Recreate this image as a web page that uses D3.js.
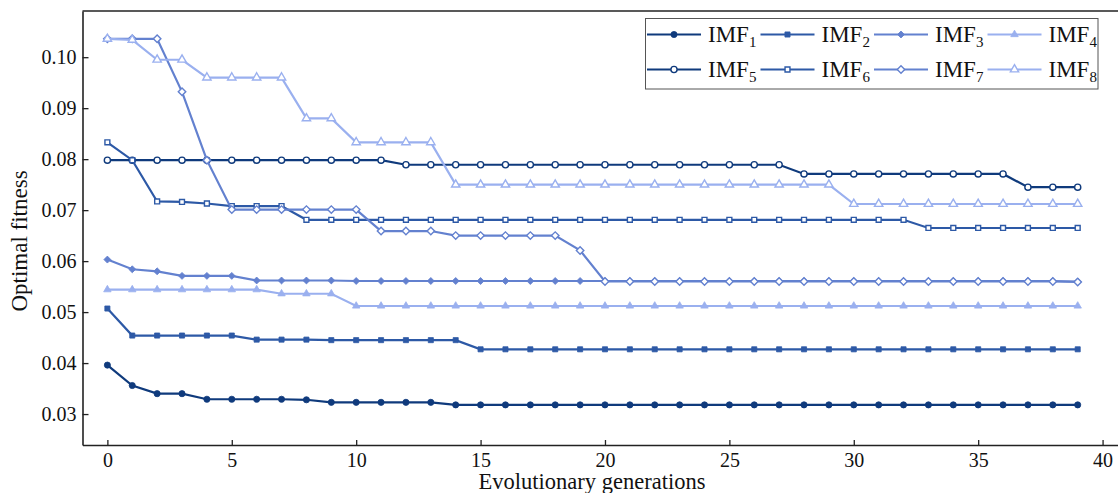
<!DOCTYPE html>
<html>
<head>
<meta charset="utf-8">
<script src="https://cdn.jsdelivr.net/npm/d3@7"></script>
<style>
  body { margin: 0; background: #fff; }
  svg { display: block; }
  text { font-family: "Liberation Serif", "Times New Roman", serif; fill: #111; }
</style>
</head>
<body>
<div id="chart"></div>
<script>
// evolutionary generations 0..39
const generations = d3.range(0, 40);

const imf1 = [0.0396, 0.0356, 0.0340, 0.0340, 0.0329, 0.0329, 0.0329, 0.0329, 0.0328, 0.0323,
  0.0323, 0.0323, 0.0323, 0.0323, 0.0318, 0.0318, 0.0318, 0.0318, 0.0318, 0.0318,
  0.0318, 0.0318, 0.0318, 0.0318, 0.0318, 0.0318, 0.0318, 0.0318, 0.0318, 0.0318,
  0.0318, 0.0318, 0.0318, 0.0318, 0.0318, 0.0318, 0.0318, 0.0318, 0.0318, 0.0318];
const imf2 = [0.0507, 0.0454, 0.0454, 0.0454, 0.0454, 0.0454, 0.0446, 0.0446, 0.0446, 0.0445,
  0.0445, 0.0445, 0.0445, 0.0445, 0.0445, 0.0427, 0.0427, 0.0427, 0.0427, 0.0427,
  0.0427, 0.0427, 0.0427, 0.0427, 0.0427, 0.0427, 0.0427, 0.0427, 0.0427, 0.0427,
  0.0427, 0.0427, 0.0427, 0.0427, 0.0427, 0.0427, 0.0427, 0.0427, 0.0427, 0.0427];
const imf3 = [0.0603, 0.0584, 0.0580, 0.0571, 0.0571, 0.0571, 0.0562, 0.0562, 0.0562, 0.0562,
  0.0561, 0.0561, 0.0561, 0.0561, 0.0561, 0.0561, 0.0561, 0.0561, 0.0561, 0.0561,
  0.0561, 0.0561, 0.0561, 0.0561, 0.0561, 0.0561, 0.0561, 0.0561, 0.0561, 0.0561,
  0.0561, 0.0561, 0.0561, 0.0561, 0.0561, 0.0561, 0.0561, 0.0561, 0.0561, 0.0560];
const imf4 = [0.0544, 0.0544, 0.0544, 0.0544, 0.0544, 0.0544, 0.0544, 0.0536, 0.0536, 0.0536,
  0.0512, 0.0512, 0.0512, 0.0512, 0.0512, 0.0512, 0.0512, 0.0512, 0.0512, 0.0512,
  0.0512, 0.0512, 0.0512, 0.0512, 0.0512, 0.0512, 0.0512, 0.0512, 0.0512, 0.0512,
  0.0512, 0.0512, 0.0512, 0.0512, 0.0512, 0.0512, 0.0512, 0.0512, 0.0512, 0.0512];
const imf5 = [0.0798, 0.0798, 0.0798, 0.0798, 0.0798, 0.0798, 0.0798, 0.0798, 0.0798, 0.0798,
  0.0798, 0.0798, 0.0789, 0.0789, 0.0789, 0.0789, 0.0789, 0.0789, 0.0789, 0.0789,
  0.0789, 0.0789, 0.0789, 0.0789, 0.0789, 0.0789, 0.0789, 0.0789, 0.0771, 0.0771,
  0.0771, 0.0771, 0.0771, 0.0771, 0.0771, 0.0771, 0.0771, 0.0745, 0.0745, 0.0745];
const imf6 = [0.0833, 0.0798, 0.0717, 0.0716, 0.0713, 0.0708, 0.0708, 0.0708, 0.0681, 0.0681,
  0.0681, 0.0681, 0.0681, 0.0681, 0.0681, 0.0681, 0.0681, 0.0681, 0.0681, 0.0681,
  0.0681, 0.0681, 0.0681, 0.0681, 0.0681, 0.0681, 0.0681, 0.0681, 0.0681, 0.0681,
  0.0681, 0.0681, 0.0681, 0.0665, 0.0665, 0.0665, 0.0665, 0.0665, 0.0665, 0.0665];
const imf7 = [0.1036, 0.1036, 0.1036, 0.0932, 0.0798, 0.0701, 0.0701, 0.0701, 0.0701, 0.0701,
  0.0701, 0.0659, 0.0659, 0.0659, 0.0650, 0.0650, 0.0650, 0.0650, 0.0650, 0.0621,
  0.0560, 0.0560, 0.0560, 0.0560, 0.0560, 0.0560, 0.0560, 0.0560, 0.0560, 0.0560,
  0.0560, 0.0560, 0.0560, 0.0560, 0.0560, 0.0560, 0.0560, 0.0560, 0.0560, 0.0559];
const imf8 = [0.1036, 0.1034, 0.0995, 0.0995, 0.0960, 0.0960, 0.0960, 0.0960, 0.0880, 0.0880,
  0.0833, 0.0833, 0.0833, 0.0833, 0.0750, 0.0750, 0.0750, 0.0750, 0.0750, 0.0750,
  0.0750, 0.0750, 0.0750, 0.0750, 0.0750, 0.0750, 0.0750, 0.0750, 0.0750, 0.0750,
  0.0712, 0.0712, 0.0712, 0.0712, 0.0712, 0.0712, 0.0712, 0.0712, 0.0712, 0.0712];

const seriesNames = ["1", "2", "3", "4", "5", "6", "7", "8"];
const seriesValues = [imf1, imf2, imf3, imf4, imf5, imf6, imf7, imf8];
const colorList = ["#0f3a7c", "#2d59a6", "#6381cf", "#9ab0ef", "#0f3a7c", "#2d59a6", "#6381cf", "#9ab0ef"];
// diamonds are squares turned 45 degrees
const symbolList = [d3.symbolCircle, d3.symbolSquare, d3.symbolSquare, d3.symbolTriangle,
  d3.symbolCircle, d3.symbolSquare, d3.symbolSquare, d3.symbolTriangle];
const symbolTurn = [0, 0, 45, 0, 0, 0, 45, 0];
const symbolSize = [30, 26, 24, 24, 30, 24, 28, 30];
const hollow = [false, false, false, false, true, true, true, true];

const xTicks = [0, 5, 10, 15, 20, 25, 30, 35, 40];
const yTicks = [0.03, 0.04, 0.05, 0.06, 0.07, 0.08, 0.09, 0.10];

const W = 1118, H = 493;
const mLeft = 82.5, mRight = 1118, mTop = 11, mBottom = 445;
const serif = "'Liberation Serif', 'Times New Roman', serif";

const svg = d3.select("#chart").append("svg")
  .attr("width", W)
  .attr("height", H);

const x = d3.scaleLinear().domain([-1, 40.62]).range([mLeft, mRight]);
const y = d3.scaleLinear().domain([0.02393, 0.10906]).range([mBottom, mTop]);

// top frame line
svg.append("line")
  .attr("x1", mLeft).attr("x2", mRight)
  .attr("y1", mTop).attr("y2", mTop)
  .attr("stroke", "#222").attr("stroke-width", 1.5);

const gx = svg.append("g").attr("transform", "translate(0," + mBottom + ")")
  .call(d3.axisBottom(x).tickValues(xTicks).tickSize(-5).tickPadding(8).tickSizeOuter(0));
const gy = svg.append("g").attr("transform", "translate(" + mLeft + ",0)")
  .call(d3.axisLeft(y).tickValues(yTicks).tickFormat(d3.format(".2f")).tickSize(-6).tickPadding(6).tickSizeOuter(0));

[gx, gy].forEach(function (g) {
  g.attr("font-family", null).attr("font-size", null);
  g.select(".domain").attr("stroke", "#222").attr("stroke-width", 1.6);
  g.selectAll(".tick line").attr("stroke", "#222").attr("stroke-width", 1.3);
  g.selectAll(".tick text")
    .style("font-family", serif)
    .style("font-size", "20px")
    .attr("fill", "#111");
});

svg.append("text")
  .attr("x", 592).attr("y", 489)
  .attr("text-anchor", "middle")
  .style("font-size", "22.5px")
  .text("Evolutionary generations");

svg.append("text")
  .attr("transform", "translate(27,241) rotate(-90)")
  .attr("text-anchor", "middle")
  .style("font-size", "23px")
  .text("Optimal fitness");

const line = d3.line()
  .x(function (d, i) { return x(generations[i]); })
  .y(function (d) { return y(d); });

function marker(s) {
  return d3.symbol().type(symbolList[s]).size(symbolSize[s])();
}

seriesValues.forEach(function (vals, s) {
  const g = svg.append("g");
  g.append("path")
    .attr("d", line(vals))
    .attr("fill", "none")
    .attr("stroke", colorList[s])
    .attr("stroke-width", 2.2);
  g.selectAll("path.pt")
    .data(vals).enter().append("path")
    .attr("class", "pt")
    .attr("transform", function (d, i) {
      return "translate(" + x(generations[i]) + "," + y(d) + ") rotate(" + symbolTurn[s] + ")";
    })
    .attr("d", marker(s))
    .attr("fill", hollow[s] ? "#fff" : colorList[s])
    .attr("stroke", colorList[s])
    .attr("stroke-width", hollow[s] ? 1.4 : 0.8);
});

// legend
const legend = svg.append("g");
legend.append("rect")
  .attr("x", 645.5).attr("y", 18.5)
  .attr("width", 452.5).attr("height", 70.5)
  .attr("fill", "#fff")
  .attr("stroke", "#555").attr("stroke-width", 1);

seriesNames.forEach(function (name, s) {
  const col = s % 4, row = Math.floor(s / 4);
  const lx = 647 + col * 113.5, ly = 34.5 + row * 35;
  const item = legend.append("g").attr("transform", "translate(" + lx + "," + ly + ")");
  item.append("line")
    .attr("x1", 0).attr("x2", 54).attr("y1", 0).attr("y2", 0)
    .attr("stroke", colorList[s]).attr("stroke-width", 2.2);
  item.append("path")
    .attr("transform", "translate(27,0) rotate(" + symbolTurn[s] + ")")
    .attr("d", marker(s))
    .attr("fill", hollow[s] ? "#fff" : colorList[s])
    .attr("stroke", colorList[s])
    .attr("stroke-width", hollow[s] ? 1.4 : 0.8);
  const t = item.append("text")
    .attr("x", 61).attr("y", 7.5)
    .style("font-size", "23px");
  t.append("tspan").text("IMF");
  t.append("tspan").style("font-size", "15px").attr("dy", 5).text(name);
});
</script>
</body>
</html>
